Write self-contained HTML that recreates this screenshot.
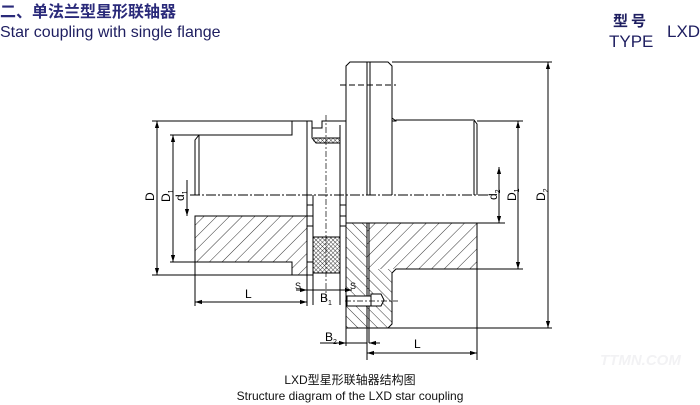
<!DOCTYPE html>
<html><head><meta charset="utf-8"><style>
html,body{margin:0;padding:0;background:#fff;}
body{width:700px;height:405px;position:relative;overflow:hidden;font-family:"Liberation Sans","Noto Sans CJK SC",sans-serif;}
.t{position:absolute;white-space:nowrap;}
</style></head><body>
<div class="t" style="left:0;top:-2px;font-size:16px;font-weight:bold;color:#2a2a7a;">二、单法兰型星形联轴器</div>
<div class="t" style="left:0;top:24px;font-size:16px;color:#1e1e60;">Star coupling with single flange</div>
<div class="t" style="left:613px;top:10px;font-size:15px;font-weight:bold;color:#1e1e60;letter-spacing:3px;">型号</div>
<div class="t" style="left:609px;top:32px;font-size:17px;color:#1e1e60;">TYPE</div>
<div class="t" style="left:667px;top:22px;font-size:17px;color:#1e1e60;">LXD</div>
<div class="t" style="left:0;width:700px;text-align:center;top:371px;font-size:12px;color:#111;">LXD型星形联轴器结构图</div>
<div class="t" style="left:0;width:700px;text-align:center;top:389px;font-size:12px;color:#111;">Structure diagram of the LXD star coupling</div>
<div class="t" style="left:600px;top:352px;font-size:15px;font-weight:bold;color:#f2f2f4;font-style:italic;">TTMN.COM</div>
<svg width="700" height="405" style="position:absolute;left:0;top:0" xmlns="http://www.w3.org/2000/svg">
<defs>
<pattern id="h1" patternUnits="userSpaceOnUse" width="9" height="9" patternTransform="rotate(45)"><line x1="0" y1="0" x2="0" y2="9" stroke="#000" stroke-width="0.8"/></pattern>
<pattern id="h2" patternUnits="userSpaceOnUse" width="7" height="7" patternTransform="rotate(-45)"><line x1="0" y1="0" x2="0" y2="7" stroke="#000" stroke-width="0.8"/></pattern>
<pattern id="x" patternUnits="userSpaceOnUse" width="3" height="3" patternTransform="rotate(45)"><path d="M0 0V3M0 0H3" stroke="#000" stroke-width="0.7"/></pattern>
<marker id="a" viewBox="0 0 10 10" refX="10" refY="5" markerWidth="7" markerHeight="7" orient="auto-start-reverse"><path d="M0 2L10 5L0 8z" fill="#000"/></marker>
</defs>
<g fill="none" stroke="#000" stroke-width="1">
<rect x="195" y="216" width="112" height="46" fill="url(#h1)" stroke="none"/>
<rect x="292" y="262" width="15" height="13" fill="url(#h1)" stroke="none"/>
<rect x="367" y="223" width="110" height="46" fill="url(#h1)" stroke="none"/>
<rect x="346" y="223" width="21" height="105" fill="url(#h2)" stroke="none"/>
<rect x="367" y="269" width="25" height="59" fill="url(#h2)" stroke="none"/>
<rect x="313" y="237" width="27" height="36" fill="url(#x)" stroke="none"/>
<rect x="313" y="138" width="27" height="5" fill="url(#x)" stroke="none"/>
<path d="M195 216V262H292V275H307V216Z"/>
<path d="M195 195V140L199 135H292V121H307V195"/>
<line x1="199" y1="135" x2="199" y2="195"/>
<line x1="195" y1="216" x2="307" y2="216"/>
<path d="M307 195V305M313 195V305M340 195V305M346 195V330"/>
<line x1="313" y1="237" x2="340" y2="237"/><line x1="313" y1="273" x2="340" y2="273"/>
<path d="M307 205h6M307 216h6M307 226h6M307 262h6M307 275h6M340 205h6M340 216h6M340 226h6"/>
<path d="M307 121H312V128H322V121H346"/>
<path d="M312 128V138L316 143H340V125"/>
<path d="M313 138H340"/><path d="M340 133V195"/>
<path d="M346 195V66L350 62H388L392 66V195"/>
<line x1="367" y1="62" x2="367" y2="195"/><line x1="370" y1="62" x2="370" y2="195"/>
<line x1="340" y1="85" x2="396" y2="85" stroke-dasharray="6 3"/>
<path d="M346 223V328H388L392 324V273L396 269H477V223Z"/>
<line x1="367" y1="223" x2="367" y2="328"/><line x1="369" y1="223" x2="369" y2="343"/>
<rect x="347" y="296" width="24" height="10" fill="#fff"/>
<path d="M371 294h10l3 6-3 6h-10z" fill="#fff"/>
<path d="M392 121H396V120H474L477 124V195"/>
<path d="M392 66V118L396 121"/>
<line x1="474" y1="121" x2="474" y2="195"/>
<line x1="190" y1="195" x2="490" y2="195" stroke-dasharray="10 2 2 2"/>
<line x1="326" y1="115" x2="326" y2="300" stroke-dasharray="6 2 2 2" stroke-width="0.7"/>
<line x1="345" y1="301" x2="398" y2="301" stroke-dasharray="6 2 2 2" stroke-width="0.7"/>
<path d="M392 62H552M370 328H552M477 121H523M477 269H523M477 223H505"/>
<line x1="548" y1="62" x2="548" y2="328" marker-start="url(#a)" marker-end="url(#a)"/>
<line x1="518" y1="121" x2="518" y2="269" marker-start="url(#a)" marker-end="url(#a)"/>
<line x1="499" y1="167" x2="499" y2="223" marker-start="url(#a)" marker-end="url(#a)"/>
<path d="M152 121H292M170 135H199M152 275H292M170 262H195"/>
<line x1="157" y1="121" x2="157" y2="275" marker-start="url(#a)" marker-end="url(#a)"/>
<line x1="173" y1="135" x2="173" y2="262" marker-start="url(#a)" marker-end="url(#a)"/>
<line x1="187" y1="180" x2="187" y2="216" marker-end="url(#a)"/>
<path d="M195 262V306M307 275V306"/>
<line x1="195" y1="302" x2="307" y2="302" marker-start="url(#a)" marker-end="url(#a)"/>
<line x1="296" y1="290" x2="307" y2="290" marker-end="url(#a)"/>
<line x1="307" y1="290" x2="346" y2="290"/>
<line x1="346" y1="290" x2="352" y2="290" marker-end="url(#a)"/>
<path d="M346 328V346M367 328V360M477 269V360"/>
<line x1="320" y1="343" x2="346" y2="343" marker-end="url(#a)"/>
<line x1="346" y1="343" x2="367" y2="343"/>
<line x1="380" y1="343" x2="369" y2="343" marker-end="url(#a)"/>
<line x1="367" y1="353" x2="477" y2="353" marker-start="url(#a)" marker-end="url(#a)"/>
</g>
<g font-family="Liberation Sans, sans-serif" font-size="12" fill="#000">
<text x="245" y="298">L</text>
<text x="295" y="289" font-size="9">S</text>
<text x="350" y="289" font-size="9">S</text>
<text x="320" y="302">B<tspan font-size="7" dy="3">1</tspan></text>
<text x="325" y="341">B<tspan font-size="7" dy="3">2</tspan></text>
<text x="414" y="348">L</text>
<text transform="translate(154,201) rotate(-90)">D</text>
<text transform="translate(170,202) rotate(-90)">D<tspan font-size="7" dy="3">1</tspan></text>
<text transform="translate(184,201) rotate(-90)">d<tspan font-size="7" dy="3">1</tspan></text>
<text transform="translate(497,200) rotate(-90)">d<tspan font-size="7" dy="3">2</tspan></text>
<text transform="translate(516,201) rotate(-90)">D<tspan font-size="7" dy="3">1</tspan></text>
<text transform="translate(545,201) rotate(-90)">D<tspan font-size="7" dy="3">2</tspan></text>
</g>
</svg>
</body></html>
